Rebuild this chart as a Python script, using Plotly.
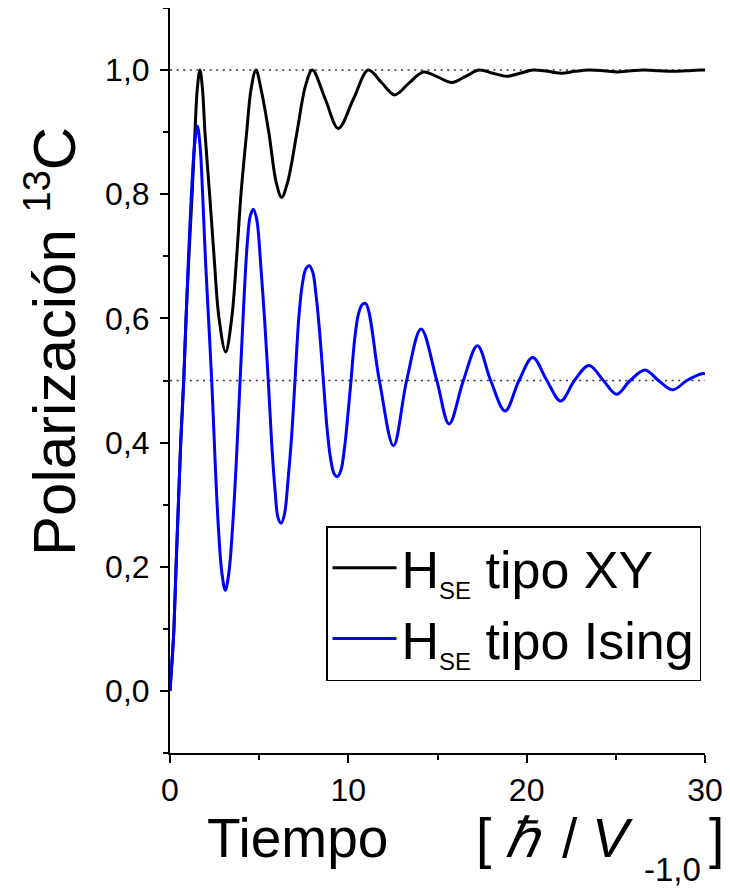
import plotly.graph_objects as go

# ---- data ----
t_ising = [0.00, 0.13, 0.22, 0.34, 0.47, 0.60, 0.77, 0.90, 1.04, 1.20, 1.38, 1.53, 1.68, 1.83, 1.98, 2.16,
           2.34, 2.53, 2.72, 2.91, 3.10, 3.30, 3.50, 3.72, 3.93, 4.13, 4.33, 4.50, 4.67, 4.86, 5.08, 5.30,
           5.51, 5.70, 5.90, 6.05, 6.23, 6.42, 6.62, 6.82, 7.01, 7.22, 7.42, 7.62, 7.81, 8.00, 8.20, 8.40,
           8.60, 8.80, 9.00, 9.20, 9.38, 9.58, 9.78, 9.96, 10.15, 10.35, 10.55, 10.77, 10.97,
           11.74, 12.53, 13.27, 14.08, 14.96, 15.65, 16.45, 17.24, 17.98, 18.79, 19.57, 20.34, 21.13,
           21.91, 22.68, 23.50, 24.30, 25.05, 25.80, 26.64, 27.39, 28.19, 28.98, 29.82, 30.00]
p_ising = [0.000, 0.055, 0.100, 0.200, 0.300, 0.400, 0.500, 0.600, 0.700, 0.800, 0.880, 0.910, 0.880, 0.800, 0.700, 0.600,
           0.500, 0.370, 0.260, 0.190, 0.162, 0.190, 0.260, 0.370, 0.500, 0.620, 0.720, 0.765, 0.776, 0.760, 0.690, 0.600,
           0.500, 0.400, 0.320, 0.280, 0.270, 0.285, 0.340, 0.410, 0.500, 0.600, 0.655, 0.680, 0.685, 0.675, 0.635, 0.575,
           0.500, 0.425, 0.375, 0.350, 0.345, 0.355, 0.390, 0.440, 0.500, 0.565, 0.605, 0.622, 0.624,
           0.500, 0.395, 0.500, 0.583, 0.500, 0.430, 0.500, 0.556, 0.500, 0.451, 0.500, 0.537, 0.500,
           0.467, 0.500, 0.524, 0.500, 0.478, 0.500, 0.517, 0.500, 0.485, 0.500, 0.511, 0.511]

t_xy = [0.00, 0.13, 0.22, 0.34, 0.47, 0.60, 0.77, 0.90, 1.06, 1.24, 1.40, 1.53, 1.68, 1.82, 1.96, 2.22,
        2.47, 2.75, 3.12, 3.46, 3.74, 3.98, 4.30, 4.55, 4.82, 5.10, 5.54, 5.95, 6.26, 6.60, 7.12, 7.60,
        7.98, 8.71, 9.44, 10.28, 11.12, 11.86, 12.60, 13.40, 14.21, 15.00, 15.80, 16.58, 17.35, 18.10,
        18.88, 19.63, 20.38, 21.17, 21.97, 22.70, 23.50, 24.30, 25.10, 25.85, 26.60, 27.40, 28.20,
        29.00, 29.80, 30.00]
p_xy = [0.000, 0.055, 0.100, 0.200, 0.300, 0.400, 0.500, 0.600, 0.700, 0.800, 0.900, 0.970, 1.000, 0.970, 0.900, 0.800,
        0.700, 0.600, 0.546, 0.600, 0.700, 0.800, 0.900, 0.970, 1.000, 0.970, 0.900, 0.820, 0.795, 0.820, 0.900, 0.975,
        1.000, 0.953, 0.906, 0.953, 1.000, 0.980, 0.960, 0.979, 0.997, 0.989, 0.980, 0.990, 1.000, 0.995,
        0.990, 0.995, 1.000, 0.998, 0.995, 0.998, 1.000, 0.999, 0.997, 0.999, 1.000, 0.999, 0.998,
        0.999, 1.000, 1.000]

ref_levels = [1.0, 0.5]
ref_x = [0, 30]

x_ticks = [0, 10, 20, 30]
y_ticks = [0.0, 0.2, 0.4, 0.6, 0.8, 1.0]

series_names = ['H<sub><span style="font-size:24px">SE</span></sub> tipo XY',
                'H<sub><span style="font-size:24px">SE</span></sub> tipo Ising']

FONT = "Liberation Sans, Arial, sans-serif"

fig = go.Figure()

for lvl in ref_levels:
    fig.add_trace(go.Scatter(x=ref_x, y=[lvl, lvl], mode="lines",
                             line=dict(color="#333333", width=1.5, dash="2px,4.6px"),
                             showlegend=False, hoverinfo="skip"))

fig.add_trace(go.Scatter(x=t_xy, y=p_xy, mode="lines",
                         line=dict(color="#000000", width=3, shape="spline", smoothing=1),
                         name=series_names[0]))
fig.add_trace(go.Scatter(x=t_ising, y=p_ising, mode="lines",
                         line=dict(color="#0000FF", width=3, shape="spline", smoothing=1),
                         name=series_names[1]))


def px_x(px):
    return (px - 170) / 535.0


def px_y(py):
    return (753 - py) / 745.0


# page body has an 8px margin: the figure is drawn 8px right/down
fig.update_layout(
    width=722, height=881,
    margin=dict(l=162, r=25, t=0, b=136),
    paper_bgcolor="white", plot_bgcolor="white",
    separators=",.",
    font=dict(family=FONT, color="black"),
    legend=dict(x=px_x(326), y=px_y(526), xanchor="left", yanchor="top",
                bordercolor="black", borderwidth=1.5, bgcolor="white",
                font=dict(size=52, family=FONT), itemwidth=64, tracegroupgap=0,
                entrywidth=330),
    xaxis=dict(range=[0, 30], showgrid=False, zeroline=False,
               showline=True, linecolor="black", linewidth=2,
               ticks="outside", ticklen=8, tickwidth=2, tickcolor="black",
               tickvals=x_ticks, ticktext=[str(v) for v in x_ticks],
               tickfont=dict(size=32, family=FONT),
               minor=dict(dtick=5, ticks="outside", ticklen=5, tickwidth=2, tickcolor="black")),
    yaxis=dict(range=[-0.1, 1.1], showgrid=False, zeroline=False,
               showline=True, linecolor="black", linewidth=2,
               ticks="outside", ticklen=8, tickwidth=2, tickcolor="black",
               tickvals=y_ticks, tickformat=".1f",
               tickfont=dict(size=32, family=FONT), ticklabelstandoff=4,
               minor=dict(dtick=0.1, tick0=0, ticks="outside", ticklen=5, tickwidth=2, tickcolor="black")),
)

fig.add_annotation(text="Polarización <sup><span style='font-size:38px'>13</span></sup>C",
                   textangle=-90, xref="paper", yref="paper", x=px_x(52), y=px_y(342),
                   xanchor="center", yanchor="middle", showarrow=False,
                   font=dict(size=60, family=FONT))

xt_y = -0.114
for txt, cx, size, yy in [("Tiempo", 297, 55, xt_y),
                          ("[", 483.5, 55, xt_y),
                          ("<i>ℏ</i>", 523.5, 55, xt_y),
                          ("/", 570, 55, xt_y),
                          ("<i>V</i>", 612.5, 55, xt_y),
                          ("-1,0", 672, 33, px_y(869)),
                          ("]", 716, 55, xt_y)]:
    fig.add_annotation(text=txt, xref="paper", yref="paper", x=px_x(cx), y=yy,
                       xanchor="center", yanchor="middle", showarrow=False,
                       font=dict(size=size, family=FONT))

fig.write_html("out.html")
